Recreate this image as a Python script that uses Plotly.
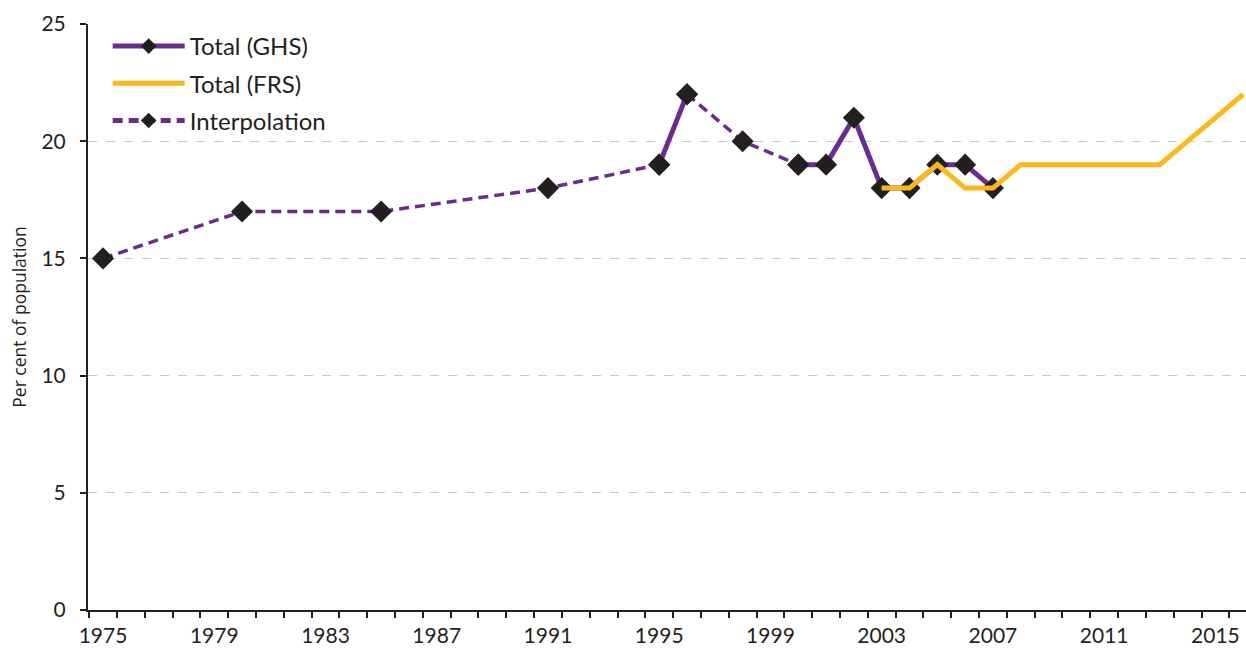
import plotly.graph_objects as go

# Data
ghs_years = [1995, 1996, None, 2000, 2001, 2002, 2003, 2004, 2005, 2006, 2007]
ghs_values = [19, 22, None, 19, 19, 21, 18, 18, 19, 19, 18]

interp_years = [1975, 1980, 1985, 1991, 1995, None, 1996, 1998, 2000]
interp_values = [15, 17, 17, 18, 19, None, 22, 20, 19]

frs_years = list(range(2003, 2017))
frs_values = [18, 18, 19, 18, 18, 19, 19, 19, 19, 19, 19, 20, 21, 22]

tick_years = [1975, 1979, 1983, 1987, 1991, 1995, 1999, 2003, 2007, 2011, 2015]
y_ticks = [0, 5, 10, 15, 20, 25]

PURPLE = "#6a2c91"
YELLOW = "#fdb71a"
DARK = "#231f20"
FONT = "Lato"

fig = go.Figure()

marker = dict(symbol="diamond", size=17, color=DARK)

fig.add_trace(go.Scatter(
    x=interp_years, y=interp_values, name="Interpolation",
    mode="lines+markers", connectgaps=False,
    line=dict(color=PURPLE, width=3.5, dash="10px,6px"),
    marker=marker, legendrank=3, legendgroup="c",
))
fig.add_trace(go.Scatter(
    x=ghs_years, y=ghs_values, name="Total (GHS)",
    mode="lines+markers", connectgaps=False,
    line=dict(color=PURPLE, width=5),
    marker=marker, legendrank=1, legendgroup="a",
))
fig.add_trace(go.Scatter(
    x=frs_years, y=frs_values, name="Total (FRS)",
    mode="lines",
    line=dict(color=YELLOW, width=5),
    legendrank=2, legendgroup="b",
))

fig.update_layout(
    width=1246, height=648,
    margin=dict(l=88, r=0, t=24, b=38),
    paper_bgcolor="white", plot_bgcolor="white",
    font=dict(family=FONT, size=21, color=DARK),
    showlegend=True,
    legend=dict(
        x=0.017, y=1.0, xanchor="left", yanchor="top",
        bgcolor="rgba(0,0,0,0)", font=dict(size=24, color=DARK),
        tracegroupgap=3, traceorder="grouped",
        itemwidth=72, itemsizing="constant",
    ),
)

fig.update_xaxes(
    range=[1974.46, 2016.1],
    tickmode="array", tickvals=tick_years, ticktext=[str(t) for t in tick_years],
    ticks="", showgrid=False, zeroline=False,
    showline=True, linecolor=DARK, linewidth=2,
    tickfont=dict(size=21, color=DARK), ticklabelstandoff=6,
    minor=dict(tick0=1974.5, dtick=1, ticks="outside", ticklen=6, tickcolor=DARK, tickwidth=1.5, showgrid=False),
)
fig.update_yaxes(
    range=[0, 25],
    tickmode="array", tickvals=y_ticks,
    ticks="outside", ticklen=6, tickcolor=DARK, tickwidth=1.5,
    showgrid=True, gridcolor="#c8c8c8", griddash="dash", gridwidth=1,
    zeroline=False,
    showline=True, linecolor=DARK, linewidth=2,
    tickfont=dict(size=21, color=DARK), ticklabelstandoff=10,
    title=dict(text="Per cent of population", font=dict(family="Open Sans", size=17.5, color=DARK), standoff=10),
)

fig.write_html(
    "out.html",
    config={"displayModeBar": False},
    post_script="document.body.style.margin='0';document.body.style.overflow='hidden';",
)
